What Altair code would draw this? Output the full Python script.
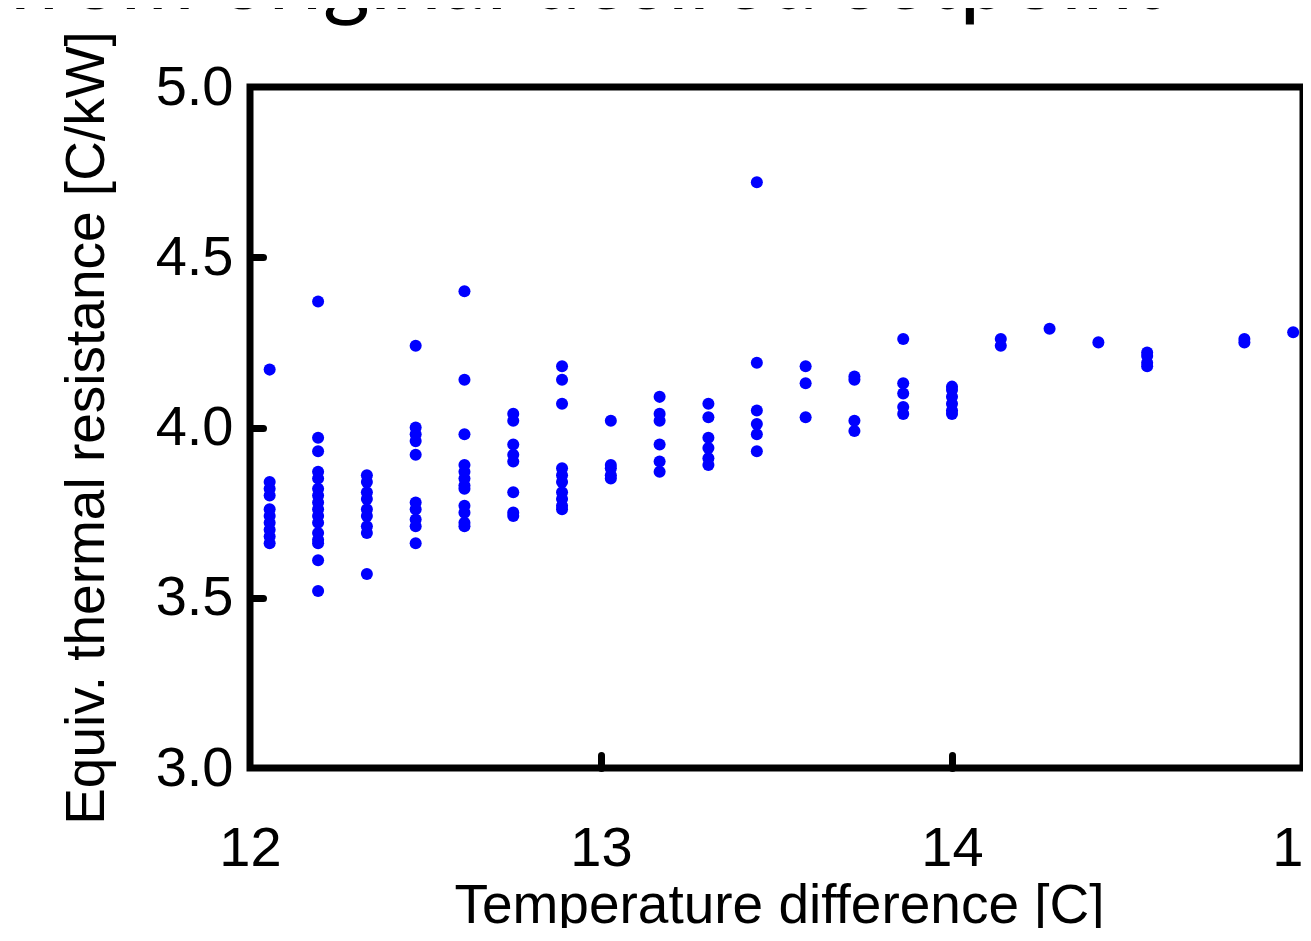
import altair as alt
import pandas as pd

# x positions of the measurement columns (temperature difference, C)
temp_diff = [12.056, 12.194, 12.333, 12.472, 12.611, 12.750, 12.889, 13.028,
             13.167, 13.306, 13.444, 13.583, 13.722, 13.861, 14.000, 14.139,
             14.278, 14.417, 14.556, 14.833, 14.972]

# equivalent thermal resistance values (C/kW) read for each column
resistance = [
    [4.17, 3.84, 3.82, 3.80, 3.76, 3.74, 3.72, 3.70, 3.68, 3.66],
    [4.37, 3.97, 3.93, 3.87, 3.85, 3.82, 3.80, 3.78, 3.76, 3.74, 3.72, 3.69, 3.67, 3.66, 3.61, 3.52],
    [3.86, 3.84, 3.81, 3.79, 3.76, 3.74, 3.71, 3.69, 3.57],
    [4.24, 4.00, 3.98, 3.96, 3.92, 3.78, 3.76, 3.73, 3.71, 3.66],
    [4.40, 4.14, 3.98, 3.89, 3.87, 3.85, 3.83, 3.82, 3.77, 3.75, 3.72, 3.71],
    [4.04, 4.02, 3.95, 3.92, 3.90, 3.81, 3.75, 3.74],
    [4.18, 4.14, 4.07, 3.88, 3.86, 3.84, 3.81, 3.79, 3.77, 3.76],
    [4.02, 3.89, 3.88, 3.86, 3.85],
    [4.09, 4.04, 4.02, 3.95, 3.90, 3.87],
    [4.07, 4.03, 3.97, 3.94, 3.91, 3.89],
    [4.72, 4.19, 4.05, 4.01, 3.98, 3.93],
    [4.18, 4.13, 4.03],
    [4.15, 4.14, 4.02, 3.99],
    [4.26, 4.13, 4.10, 4.06, 4.04],
    [4.12, 4.11, 4.09, 4.07, 4.05, 4.04],
    [4.26, 4.24],
    [4.29],
    [4.25],
    [4.22, 4.21, 4.19, 4.18],
    [4.26, 4.25],
    [4.28],
]

x_ticks = [12, 13, 14, 15]
x_inner_ticks = [13, 14]
y_ticks = [3.0, 3.5, 4.0, 4.5, 5.0]
y_inner_ticks = [3.5, 4.0, 4.5]
slide_title = ["from original desired setpoint"]

rows = []
for xv, ys in zip(temp_diff, resistance):
    for yv in ys:
        rows.append({"dT": xv, "R": yv})
df = pd.DataFrame(rows)

W, H = 1053, 681
FONT = "Liberation Sans"

xscale = alt.Scale(domain=[12, 15], nice=False, zero=False)
yscale = alt.Scale(domain=[3, 5], nice=False, zero=False)

points = alt.Chart(df).mark_circle(size=145, color="#0000FF", opacity=1, clip=True).encode(
    x=alt.X("dT:Q", scale=xscale, axis=alt.Axis(
        values=x_ticks, format="d", labelFontSize=56, labelFont=FONT, labelColor="black",
        ticks=False, tickSize=0, domain=False, grid=False, labelPadding=53, labelFlush=False,
        title="Temperature difference [C]", titleFontSize=55, titleFont=FONT,
        titleFontWeight="normal", titleColor="black", titleBaseline="alphabetic",
        titleY=154, titleX=529)),
    y=alt.Y("R:Q", scale=yscale, axis=alt.Axis(
        values=y_ticks, format=".1f", labelFontSize=56, labelFont=FONT, labelColor="black",
        ticks=False, tickSize=0, domain=False, grid=False, labelPadding=17, labelFlush=False,
        title="Equiv. thermal resistance [C/kW]", titleFontSize=55, titleFont=FONT,
        titleFontWeight="normal", titleColor="black", titleBaseline="alphabetic",
        titleAngle=-90, titleAlign="center", titleX=-147, titleY=H / 2)),
)

tick_layer = alt.Chart(df).mark_point(opacity=0).encode(
    x=alt.X("dT:Q", scale=xscale, axis=alt.Axis(
        orient="top", offset=-H, values=x_inner_ticks, labels=False, domain=False, grid=False,
        ticks=True, tickSize=13, tickWidth=7, tickColor="black", tickCap="round", title=None)),
    y=alt.Y("R:Q", scale=yscale, axis=alt.Axis(
        orient="right", offset=-W, values=y_inner_ticks, labels=False, domain=False, grid=False,
        ticks=True, tickSize=13, tickWidth=7, tickColor="black", tickCap="round", title=None)),
)

title_layer = alt.Chart(pd.DataFrame({"t": slide_title})).mark_text(
    font="Lato", fontSize=90, align="left", baseline="alphabetic", color="black"
).encode(text="t:N", x=alt.value(-243), y=alt.value(-78))

chart = alt.layer(points, tick_layer, title_layer).resolve_axis(
    x="independent", y="independent"
).properties(
    width=W, height=H,
    autosize=alt.AutoSizeParams(type="none"),
    padding={"left": 242, "top": 79, "right": 0, "bottom": 160},
).configure_view(
    stroke="black", strokeWidth=7
)

chart.save("out.html", embed_options={"renderer": "svg", "actions": False})
